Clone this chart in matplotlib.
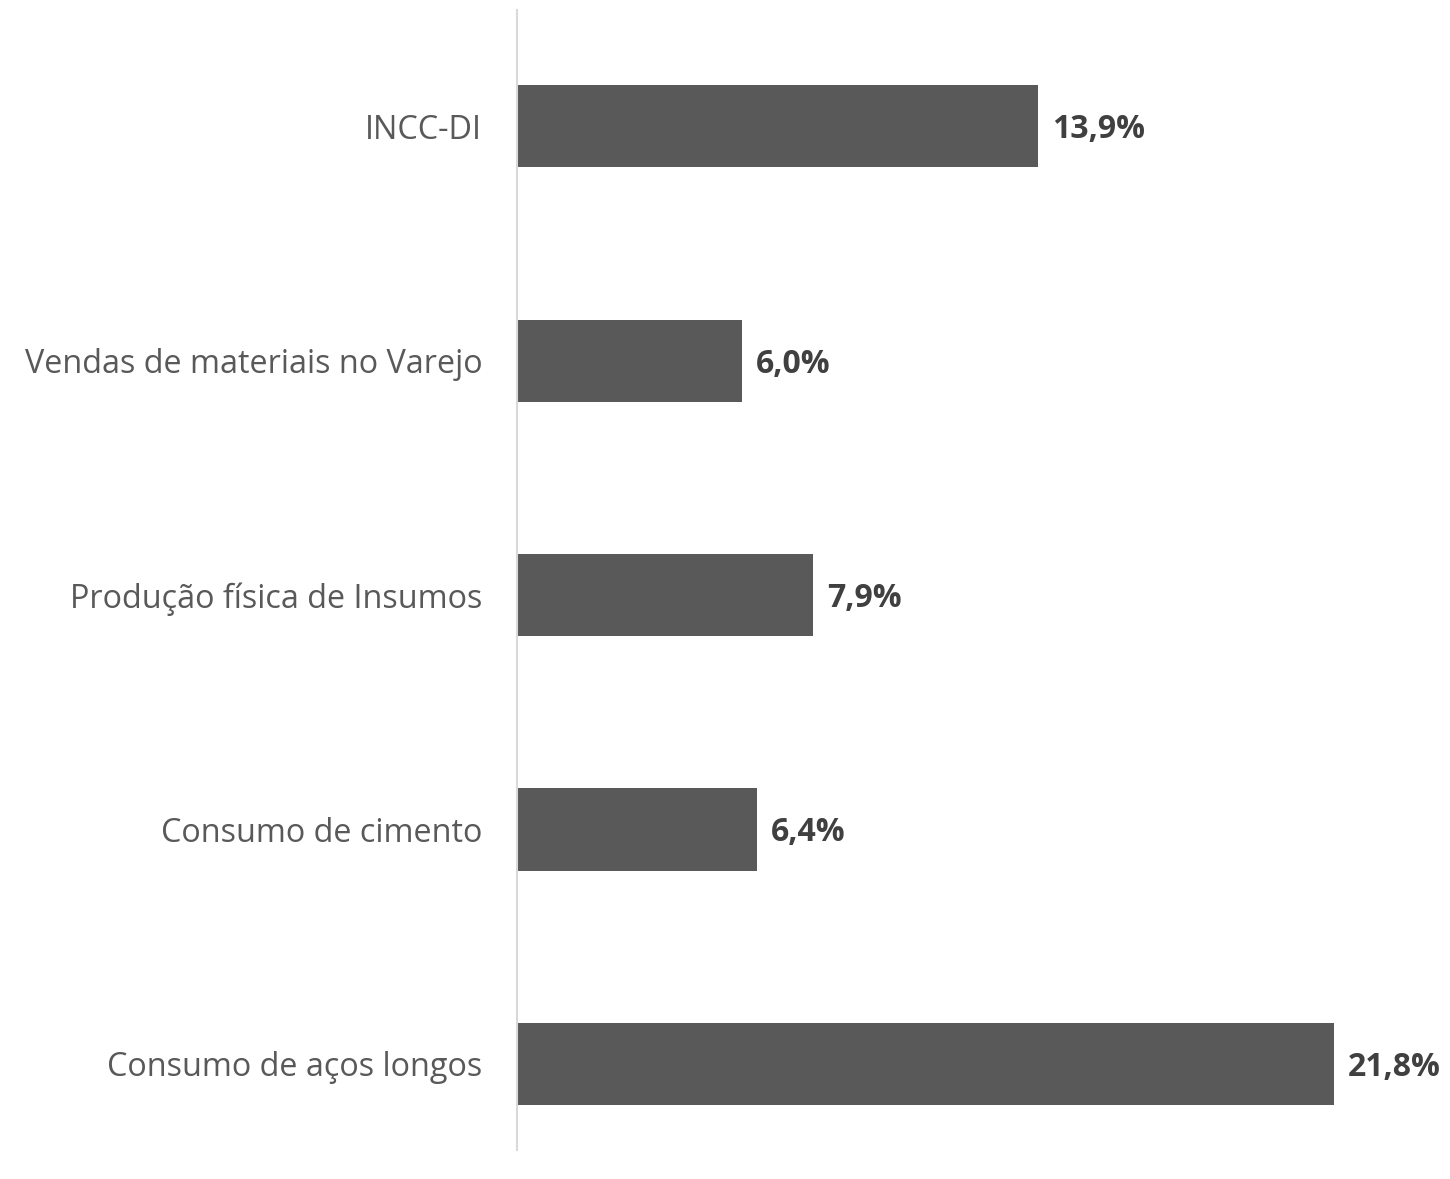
import matplotlib
matplotlib.use("Agg")
import matplotlib.pyplot as plt

categories = ["INCC-DI", "Vendas de materiais no Varejo", "Produção física de Insumos",
              "Consumo de cimento", "Consumo de aços longos"]
values = [13.9, 6.0, 7.9, 6.4, 21.8]
value_labels = ["13,9%", "6,0%", "7,9%", "6,4%", "21,8%"]

plt.rcParams['font.family'] = ['Open Sans', 'DejaVu Sans']

fig = plt.figure(figsize=(14.5, 11.79), dpi=100)
ax = fig.add_axes([0.3566, 0.0246, 0.6434, 0.9669])

pos = list(range(len(categories)))
ax.barh(pos, values, height=0.35, color="#595959")

for p, v, lab in zip(pos, values, value_labels):
    ax.text(v + 0.38, p + 0.015, lab, va="center", ha="left", fontsize=23,
            fontweight="bold", color="#404040")

ax.set_yticks(pos)
ax.set_yticklabels(categories, fontsize=23.3, color="#595959")
ax.tick_params(axis="y", length=0, pad=25)
ax.set_xticks([])
ax.set_xlim(0, 24.9)
ax.set_ylim(4.367, -0.495)

for s in ["top", "right", "bottom"]:
    ax.spines[s].set_visible(False)
ax.spines["left"].set_color("#D9D9D9")
ax.spines["left"].set_linewidth(1.5)

fig.savefig("out.png", dpi=100)
